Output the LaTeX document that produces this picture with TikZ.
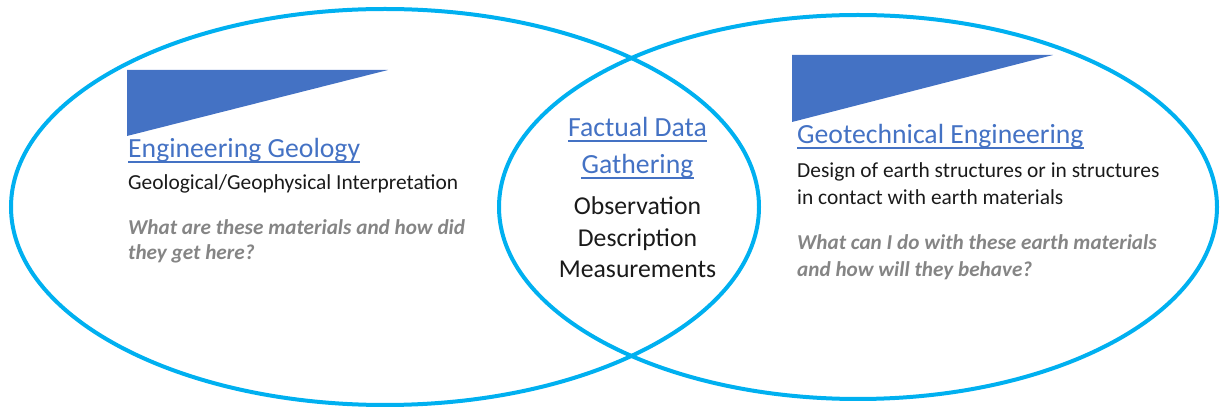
\documentclass[tikz,border=0pt]{standalone}
\usepackage{fontspec}
\setmainfont{Carlito}
\usetikzlibrary{calc}
\definecolor{ringblue}{HTML}{00B0F0}
\definecolor{titleblue}{HTML}{4472C4}
\definecolor{qgray}{HTML}{858585}
\definecolor{bodyblack}{HTML}{1A1A1A}
\tikzset{
  ring/.style={draw=ringblue, line width=4pt},
  wedge/.style={fill=titleblue, draw=none},
  txt/.style={inner sep=0pt, anchor=base west},
  ctxt/.style={inner sep=0pt, anchor=base},
  title/.style={font=\fontsize{27.7}{30}\selectfont, text=titleblue},
  body/.style={font=\fontsize{21.4}{24}\selectfont, text=bodyblack},
  mid/.style={font=\fontsize{25.7}{28}\selectfont, text=bodyblack},
  quest/.style={font=\fontsize{21.2}{24}\selectfont\bfseries\itshape, text=qgray},
  uline/.style={draw=titleblue, line width=1.5pt}
}
\begin{document}
\begin{tikzpicture}[x=1pt, y=-1pt]
\useasboundingbox (0,0) rectangle (1221,411);
% rings
\draw[ring] (385,207) ellipse [x radius=374, y radius=198];
\draw[ring] (858,207) ellipse [x radius=359, y radius=192];
% wedges
\fill[wedge] (127,70) -- (388,70) -- (127,136) -- cycle;
\fill[wedge] (792,55) -- (1053,55) -- (792,122) -- cycle;
% left
\node[txt, title] (egt) at (128,158) {Engineering Geology};
\draw[uline] ($(egt.base west)+(0,4)$) -- ($(egt.base east)+(0,4)$);
\node[txt, body] (eg1) at (128,190) {Geological/Geophysical Interpretation};
\node[txt, quest] (eq1) at (128,235) {What are these materials and how did};
\node[txt, quest] (eq2) at (128,260) {they get here?};
% middle
\node[ctxt, title] (f1) at (637.5,137) {Factual Data};
\draw[uline] ($(f1.base west)+(0,4)$) -- ($(f1.base east)+(0,4)$);
\node[ctxt, title] (f2) at (637.5,174) {Gathering};
\draw[uline] ($(f2.base west)+(0,4)$) -- ($(f2.base east)+(0,4)$);
\node[ctxt, mid] (m1) at (637.5,215) {Observation};
\node[ctxt, mid] (m2) at (637.5,247) {Description};
\node[ctxt, mid] (m3) at (637.5,278) {Measurements};
% right
\node[txt, title] (get) at (797,144) {Geotechnical Engineering};
\draw[uline] ($(get.base west)+(0,4)$) -- ($(get.base east)+(0,4)$);
\node[txt, body] (gd1) at (797,178) {Design of earth structures or in structures};
\node[txt, body] (gd2) at (797,205) {in contact with earth materials};
\node[txt, quest] (gq1) at (797,250) {What can I do with these earth materials};
\node[txt, quest] (gq2) at (797,277) {and how will they behave?};
\end{tikzpicture}
\end{document}
